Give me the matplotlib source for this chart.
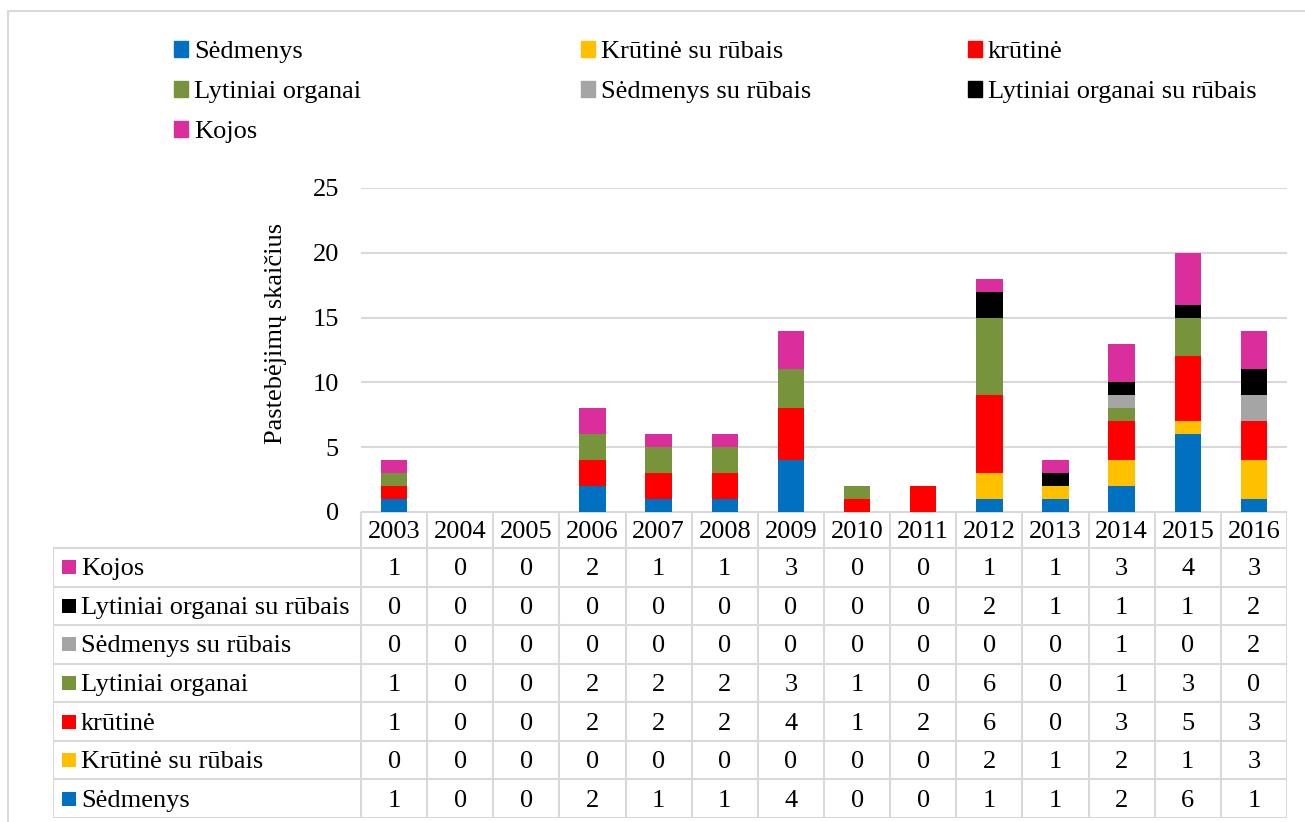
import numpy as np
import matplotlib
matplotlib.use("Agg")
import matplotlib.pyplot as plt
from matplotlib.patches import Patch, Rectangle

plt.rcParams['font.family'] = ['Liberation Serif', 'DejaVu Serif']

# duomenys
metai = ['2003', '2004', '2005', '2006', '2007', '2008', '2009',
         '2010', '2011', '2012', '2013', '2014', '2015', '2016']
sedmenys = [1, 0, 0, 2, 1, 1, 4, 0, 0, 1, 1, 2, 6, 1]
krutine_rubai = [0, 0, 0, 0, 0, 0, 0, 0, 0, 2, 1, 2, 1, 3]
krutine = [1, 0, 0, 2, 2, 2, 4, 1, 2, 6, 0, 3, 5, 3]
lytiniai = [1, 0, 0, 2, 2, 2, 3, 1, 0, 6, 0, 1, 3, 0]
sedmenys_rubai = [0, 0, 0, 0, 0, 0, 0, 0, 0, 0, 0, 1, 0, 2]
lytiniai_rubai = [0, 0, 0, 0, 0, 0, 0, 0, 0, 2, 1, 1, 1, 2]
kojos = [1, 0, 0, 2, 1, 1, 3, 0, 0, 1, 1, 3, 4, 3]

pavadinimai = ['Sėdmenys', 'Krūtinė su rūbais', 'krūtinė', 'Lytiniai organai',
               'Sėdmenys su rūbais', 'Lytiniai organai su rūbais', 'Kojos']
serijos = [sedmenys, krutine_rubai, krutine, lytiniai,
           sedmenys_rubai, lytiniai_rubai, kojos]
spalvos = ['#0070C0', '#FFC000', '#FF0000', '#77933C',
           '#A5A5A5', '#000000', '#D92E9B']

W, H = 1305, 822
grid_c = '#D9D9D9'
fs = 19


def fx(x):
    return x / W


def fy(y):
    return 1 - y / H


fig = plt.figure(figsize=(W / 100, H / 100), dpi=100)

# rėmelis
fig.patches.append(Rectangle((fx(8), fy(900)), 1.2, fy(11) - fy(900),
                             transform=fig.transFigure, fill=False,
                             edgecolor=grid_c, linewidth=1.5))

# stulpelinė diagrama
ax = fig.add_axes([fx(361), fy(512), fx(1287) - fx(361), (512 - 188) / H])
x = np.arange(len(metai))
bottom = np.zeros(len(metai))
for vals, name, c in zip(serijos, pavadinimai, spalvos):
    ax.bar(x, vals, 0.4, bottom=bottom, color=c, label=name, zorder=3)
    bottom += np.array(vals)
ax.set_xlim(-0.5, len(metai) - 0.5)
ax.set_ylim(0, 25)
ax.set_yticks(range(0, 26, 5))
ax.yaxis.grid(True, color=grid_c, linewidth=1.5)
ax.set_xticks([])
for s in ax.spines.values():
    s.set_visible(False)
ax.tick_params(axis='y', length=0, pad=16, labelsize=fs)
fig.text(fx(276), fy(333), 'Pastebėjimų skaičius', rotation=90,
         ha='center', va='center', fontsize=fs)

# legenda - trys stulpeliai
stulp_x = [174, 581, 968]
grupes = [[0, 3, 6], [1, 4], [2, 5]]
for gx, g in zip(stulp_x, grupes):
    handles = [Patch(color=spalvos[i]) for i in g]
    labels = [pavadinimai[i] for i in g]
    fig.legend(handles, labels, loc='upper left',
               bbox_to_anchor=(fx(gx), fy(41)), frameon=False,
               fontsize=fs, handlelength=0.53, handleheight=0.53,
               handletextpad=0.22, labelspacing=0.68,
               borderpad=0, borderaxespad=0)

# lentelė
n = len(metai)
cw = (1287 - 361) / n
rh = (818 - 548) / 7
h0 = (548 - 512) / rh
left = -0.5 - (361 - 53) / cw
at = fig.add_axes([fx(53), fy(818), fx(1287) - fx(53), (818 - 512) / H])
at.set_xlim(left, n - 0.5)
at.set_ylim(h0 + 7, 0)
at.axis('off')

lw = 1.5
at.plot([-0.5, n - 0.5], [0, 0], color=grid_c, lw=lw)
for k in range(8):
    at.plot([left, n - 0.5], [h0 + k, h0 + k], color=grid_c, lw=lw)
for j in range(n + 1):
    at.plot([-0.5 + j, -0.5 + j], [0, h0 + 7], color=grid_c, lw=lw)
at.plot([left, left], [h0, h0 + 7], color=grid_c, lw=lw)

dy = 2 / rh
for j, m in enumerate(metai):
    at.text(j, h0 / 2 + dy, m, ha='center', va='center', fontsize=fs)

tvarka = list(range(len(serijos)))[::-1]
for k, i in enumerate(tvarka):
    yc = h0 + k + 0.5
    at.scatter([left + (68.5 - 53) / cw], [yc], marker='s', s=92,
               color=spalvos[i], linewidths=0)
    at.text(left + (81 - 53) / cw, yc + dy, pavadinimai[i], ha='left',
            va='center', fontsize=fs)
    for j, v in enumerate(serijos[i]):
        at.text(j, yc + dy, str(v), ha='center', va='center', fontsize=fs)

fig.savefig('out.png', dpi=100)
